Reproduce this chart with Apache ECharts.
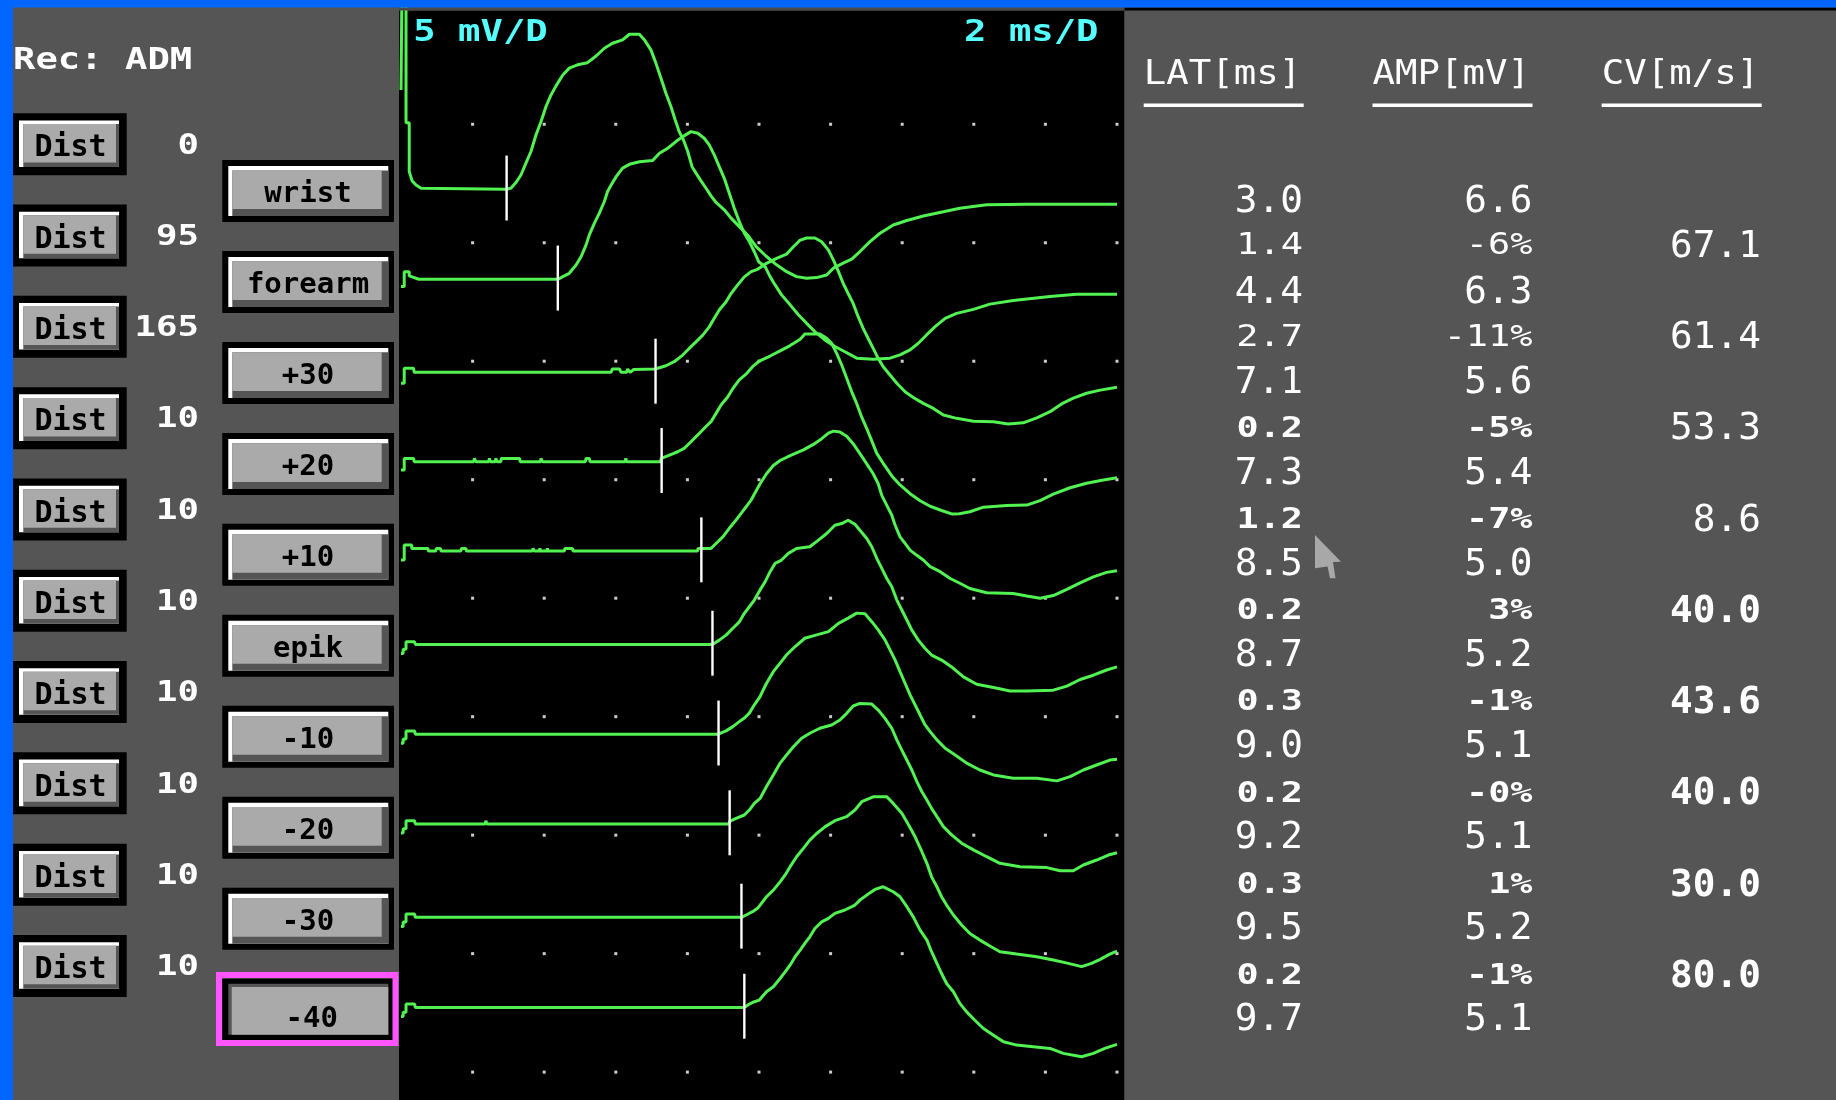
<!DOCTYPE html>
<html><head><meta charset="utf-8">
<script src="https://cdn.jsdelivr.net/npm/echarts@6/dist/echarts.min.js"></script>
<style>html,body{margin:0;padding:0;background:#555555;overflow:hidden}#chart{width:1836px;height:1100px}</style>
</head><body><div id="chart"></div>
<script>
// ---------------- data ----------------
const siteNames = ['wrist','forearm','+30','+20','+10','epik','-10','-20','-30','-40'];
const distValues = ['0','95','165','10','10','10','10','10','10','10'];
const recSite = 'Rec: ADM';
const sensLabel = '5 mV/D';
const sweepLabel = '2 ms/D';
const tableHeaders = ['LAT[ms]','AMP[mV]','CV[m/s]'];
const latValues = [3.0, 4.4, 7.1, 7.3, 8.5, 8.7, 9.0, 9.2, 9.5, 9.7];
const ampValues = [6.6, 6.3, 5.6, 5.4, 5.0, 5.2, 5.1, 5.1, 5.2, 5.1];
const latDiffs = [1.4, 2.7, 0.2, 1.2, 0.2, 0.3, 0.2, 0.3, 0.2];
const ampDiffs = ['-6%','-11%','-5%','-7%','3%','-1%','-0%','1%','-1%'];
const cvValues = [67.1, 61.4, 53.3, 8.6, 40.0, 43.6, 40.0, 30.0, 80.0];
// trace display offsets (mV on the screen scale) and onset cursors (ms)
const baselines = [37.26, 33.46, 29.53, 25.76, 21.99, 18.05, 14.26, 10.47, 6.53, 2.73];
const onsetMarks = [2.95, 4.38, 7.11, 7.28, 8.39, 8.70, 8.87, 9.18, 9.51, 9.59];
// grid division ticks
const timeTicks = [2,4,6,8,10,12,14,16,18,20];
const levelTicks = [0,5,10,15,20,25,30,35,40];
// traces: [ms, mV relative to own baseline]
const traceWrist = [[0,4.19],[0.03,9],[0.14,9],[0.14,2.8],[0.23,2.8],[0.23,0.74],[0.31,0.35],[0.42,0.18],[0.56,0.04],[0.6,0],[2.93,0],[3.07,0.04],[3.21,0.28],[3.35,0.60],[3.49,1.10],[3.63,1.59],[3.77,2.29],[3.91,2.85],[4.05,3.49],[4.19,3.98],[4.33,4.36],[4.52,4.82],[4.70,5.11],[4.93,5.25],[5.21,5.34],[5.45,5.62],[5.68,5.95],[5.91,6.16],[6.19,6.30],[6.38,6.54],[6.66,6.54],[6.80,6.30],[6.98,5.88],[7.12,5.32],[7.26,4.69],[7.40,4.05],[7.54,3.49],[7.66,2.92],[7.77,2.43],[7.89,2.08],[8.01,1.59],[8.13,0.95],[8.24,0.68],[8.38,0.35],[8.52,0.04],[8.66,-0.28],[8.80,-0.56],[9.03,-0.87],[9.22,-1.22],[9.45,-1.58],[9.68,-1.93],[9.92,-2.42],[10.21,-2.84],[10.49,-3.19],[10.77,-3.48],[11.05,-3.69],[11.33,-3.76],[11.61,-3.73],[11.89,-3.62],[12.08,-3.33],[12.35,-3.12],[12.59,-2.95],[12.82,-2.63],[13.10,-2.21],[13.38,-1.86],[13.75,-1.51],[14.13,-1.32],[14.59,-1.13],[15.15,-0.95],[15.61,-0.80],[16.36,-0.66],[17.48,-0.63],[20,-0.63]];
const traceForearm = [[0,-0.31],[0.09,-0.31],[0.09,0.32],[0.23,0.32],[0.23,0.14],[0.5,0],[4.39,0],[4.52,0.11],[4.70,0.25],[4.89,0.60],[5.03,0.95],[5.17,1.45],[5.26,1.87],[5.40,2.36],[5.54,2.79],[5.68,3.28],[5.77,3.70],[5.87,3.98],[6.01,4.33],[6.19,4.69],[6.38,4.85],[6.66,4.96],[7.03,5.01],[7.22,5.32],[7.45,5.53],[7.68,5.81],[7.87,6.02],[8.10,6.23],[8.29,6.16],[8.47,5.95],[8.61,5.67],[8.75,5.25],[8.89,4.75],[9.03,4.26],[9.17,3.63],[9.31,3.00],[9.45,2.43],[9.59,1.94],[9.73,1.59],[9.87,1.16],[9.99,0.74],[10.17,0.53],[10.31,0.11],[10.45,-0.24],[10.63,-0.66],[10.87,-1.08],[11.10,-1.50],[11.33,-1.86],[11.56,-2.21],[11.84,-2.56],[12.12,-2.84],[12.40,-3.06],[12.73,-3.33],[13.19,-3.38],[13.66,-3.33],[13.94,-3.19],[14.22,-2.98],[14.45,-2.70],[14.68,-2.35],[14.92,-2.00],[15.20,-1.65],[15.52,-1.44],[15.99,-1.27],[16.45,-1.05],[17.10,-0.90],[18.13,-0.73],[18.87,-0.63],[20,-0.63]];
const tracePlus30 = [[0,-0.46],[0.09,-0.46],[0.09,0.17],[0.35,0.17],[0.37,0],[5.87,0],[5.9,0.14],[6.1,0.14],[6.15,0],[6.3,0],[6.33,0.14],[6.4,0],[6.5,0.12],[7.10,0.14],[7.40,0.28],[7.63,0.45],[7.87,0.73],[8.05,1.01],[8.24,1.29],[8.43,1.57],[8.61,1.92],[8.75,2.28],[8.89,2.63],[9.08,2.98],[9.22,3.33],[9.40,3.68],[9.59,4.03],[9.78,4.25],[9.96,4.35],[10.21,4.60],[10.49,4.81],[10.77,4.99],[10.96,5.30],[11.15,5.58],[11.33,5.67],[11.56,5.67],[11.75,5.51],[11.94,5.16],[12.08,4.74],[12.22,4.25],[12.35,3.76],[12.49,3.33],[12.63,2.91],[12.77,2.35],[12.91,1.86],[13.05,1.43],[13.19,1.01],[13.33,0.59],[13.47,0.24],[13.66,-0.11],[13.85,-0.46],[14.08,-0.82],[14.31,-1.06],[14.59,-1.31],[14.87,-1.52],[15.15,-1.80],[15.52,-1.94],[15.99,-2.06],[16.55,-2.08],[16.96,-2.18],[17.38,-2.13],[17.76,-1.92],[18.13,-1.66],[18.45,-1.33],[18.78,-1.09],[19.15,-0.88],[19.53,-0.75],[20,-0.63]];
const tracePlus20 = [[0,-0.35],[0.09,-0.35],[0.09,0.14],[0.35,0.14],[0.37,0],[2.03,0],[2.05,0.14],[2.09,0],[2.45,0],[2.47,0.14],[2.5,0],[2.63,0],[2.65,0.14],[2.68,0],[2.79,0],[2.8,0.14],[3.31,0.14],[3.33,0],[3.9,0],[3.91,0.14],[3.95,0],[5.15,0],[5.17,0.14],[5.26,0.14],[5.28,0],[6.26,0],[6.28,0.14],[6.3,0],[7.25,0],[7.27,0.14],[7.50,0.28],[7.73,0.42],[7.91,0.56],[8.10,0.84],[8.29,1.13],[8.47,1.41],[8.66,1.69],[8.80,2.04],[8.94,2.39],[9.13,2.74],[9.27,3.09],[9.45,3.45],[9.66,3.73],[9.82,4.01],[10.02,4.26],[10.31,4.46],[10.59,4.68],[10.87,4.90],[11.15,5.17],[11.28,5.39],[11.70,5.39],[11.89,5.21],[12.03,5.00],[12.17,4.57],[12.31,4.08],[12.45,3.52],[12.59,2.95],[12.73,2.45],[12.87,1.88],[13.01,1.40],[13.15,0.88],[13.29,0.35],[13.47,-0.07],[13.71,-0.60],[13.94,-0.98],[14.22,-1.35],[14.50,-1.65],[14.78,-1.88],[15.10,-2.06],[15.40,-2.21],[15.60,-2.20],[15.89,-2.11],[16.27,-1.92],[16.92,-1.85],[17.48,-1.83],[17.85,-1.64],[18.22,-1.37],[18.69,-1.10],[19.15,-0.91],[19.62,-0.77],[20,-0.68]];
const tracePlus10 = [[0,-0.38],[0.09,-0.38],[0.09,0.25],[0.3,0.25],[0.3,0.11],[0.75,0.11],[0.77,0],[0.97,0],[0.99,0.11],[1.1,0.11],[1.12,0],[1.67,0],[1.69,0.11],[1.81,0.11],[1.83,0],[3.67,0],[3.69,0.11],[3.72,0],[3.86,0],[3.88,0.11],[3.9,0],[4.07,0],[4.09,0.11],[4.11,0],[4.56,0],[4.58,0.11],[4.79,0.11],[4.81,0],[8.28,0],[8.3,0.11],[8.66,0.11],[8.80,0.32],[8.99,0.60],[9.17,0.96],[9.36,1.31],[9.50,1.59],[9.64,1.87],[9.78,2.15],[10.03,2.84],[10.21,3.26],[10.40,3.61],[10.59,3.82],[10.87,4.03],[11.24,4.27],[11.52,4.50],[11.75,4.74],[11.94,4.98],[12.08,5.06],[12.26,5.02],[12.45,4.84],[12.63,4.53],[12.82,4.11],[13.01,3.68],[13.19,3.26],[13.33,2.84],[13.43,2.35],[13.57,1.93],[13.71,1.51],[13.80,1.10],[13.94,0.60],[14.08,0.32],[14.22,0.04],[14.40,-0.17],[14.59,-0.38],[14.78,-0.66],[15.06,-0.87],[15.34,-1.16],[15.61,-1.36],[15.89,-1.58],[16.36,-1.76],[17.10,-1.79],[17.48,-1.90],[17.85,-1.99],[18.22,-1.88],[18.60,-1.62],[18.97,-1.34],[19.34,-1.09],[19.71,-0.90],[20,-0.83]];
const traceEpik = [[0,-0.38],[0.06,-0.38],[0.06,-0.2],[0.14,-0.2],[0.14,0.11],[0.38,0.11],[0.4,0],[8.70,0],[8.89,0.18],[9.08,0.39],[9.27,0.68],[9.45,0.95],[9.59,1.31],[9.73,1.59],[9.87,1.87],[10.03,2.30],[10.17,2.64],[10.31,3.07],[10.45,3.42],[10.63,3.56],[10.82,3.84],[11.05,4.05],[11.42,4.12],[11.66,4.40],[11.89,4.68],[12.12,5.03],[12.31,5.10],[12.49,5.24],[12.68,5.07],[12.82,4.82],[13.01,4.47],[13.15,4.12],[13.29,3.63],[13.43,3.21],[13.57,2.78],[13.71,2.43],[13.85,1.87],[13.99,1.45],[14.13,1.03],[14.27,0.60],[14.45,0.18],[14.64,-0.17],[14.82,-0.45],[15.10,-0.66],[15.38,-0.95],[15.71,-1.37],[16.08,-1.68],[16.55,-1.82],[17.01,-1.97],[17.48,-1.97],[18.22,-1.93],[18.60,-1.76],[18.97,-1.48],[19.34,-1.30],[19.71,-1.08],[20,-0.95]];
const traceMinus10 = [[0,-0.38],[0.06,-0.38],[0.06,-0.2],[0.14,-0.2],[0.14,0.14],[0.38,0.14],[0.4,0],[8.86,0],[9.08,0.14],[9.27,0.32],[9.45,0.53],[9.59,0.68],[9.73,0.89],[9.87,1.24],[10.03,1.59],[10.21,2.15],[10.40,2.64],[10.59,3.00],[10.77,3.35],[11.01,3.70],[11.28,4.05],[11.61,4.19],[11.94,4.33],[12.22,4.68],[12.49,4.90],[12.73,5.11],[12.96,5.08],[13.15,4.75],[13.33,4.40],[13.52,3.98],[13.66,3.56],[13.80,3.14],[13.94,2.64],[14.08,2.15],[14.22,1.66],[14.36,1.24],[14.50,0.81],[14.64,0.39],[14.78,0.11],[14.97,-0.24],[15.20,-0.59],[15.47,-0.87],[15.80,-1.22],[16.17,-1.51],[16.55,-1.72],[17.10,-1.86],[17.76,-1.86],[18.32,-1.97],[18.69,-1.79],[19.06,-1.51],[19.43,-1.30],[19.80,-1.09],[20,-1.06]];
const traceMinus20 = [[0,-0.38],[0.06,-0.38],[0.06,-0.2],[0.14,-0.2],[0.14,0.14],[0.38,0.14],[0.4,0],[2.35,0],[2.37,0.14],[2.4,0],[9.16,0],[9.18,0.11],[9.36,0.24],[9.59,0.38],[9.73,0.59],[9.87,0.87],[10.03,1.08],[10.21,1.58],[10.40,2.07],[10.59,2.57],[10.77,2.91],[10.96,3.26],[11.19,3.62],[11.42,3.83],[11.70,4.04],[12.03,4.18],[12.26,4.39],[12.45,4.67],[12.63,4.98],[12.82,5.09],[13.15,5.06],[13.33,4.81],[13.52,4.46],[13.71,4.04],[13.85,3.55],[13.99,3.12],[14.13,2.70],[14.27,2.28],[14.41,1.79],[14.55,1.36],[14.69,1.01],[14.82,0.66],[14.97,0.31],[15.15,-0.11],[15.38,-0.46],[15.66,-0.81],[15.99,-1.09],[16.36,-1.38],[16.73,-1.66],[17.29,-1.80],[18.04,-1.84],[18.41,-1.97],[18.78,-1.97],[19.06,-1.73],[19.43,-1.52],[19.76,-1.31],[20,-1.21]];
const traceMinus30 = [[0,-0.38],[0.06,-0.38],[0.06,-0.2],[0.14,-0.2],[0.14,0.14],[0.38,0.14],[0.4,0],[9.51,0],[9.64,0.10],[9.82,0.24],[9.96,0.38],[10.03,0.52],[10.21,0.87],[10.40,1.15],[10.59,1.50],[10.73,1.79],[10.87,2.14],[11.05,2.56],[11.24,2.91],[11.42,3.26],[11.61,3.54],[11.84,3.82],[12.12,4.08],[12.45,4.25],[12.68,4.53],[12.87,4.88],[13.19,5.09],[13.57,5.09],[13.75,4.81],[13.99,4.39],[14.18,3.90],[14.36,3.40],[14.55,2.77],[14.69,2.28],[14.82,1.71],[14.97,1.29],[15.10,0.87],[15.24,0.52],[15.43,0.10],[15.66,-0.32],[15.89,-0.68],[16.17,-0.96],[16.45,-1.21],[16.73,-1.45],[17.20,-1.55],[17.76,-1.66],[18.22,-1.80],[18.64,-1.94],[19.01,-2.08],[19.29,-1.94],[19.53,-1.77],[19.80,-1.55],[20,-1.42]];
const traceMinus40 = [[0,-0.38],[0.06,-0.38],[0.06,-0.2],[0.14,-0.2],[0.14,0.14],[0.38,0.14],[0.4,0],[9.59,0],[9.73,0.14],[9.87,0.24],[10.01,0.31],[10.21,0.66],[10.40,0.87],[10.59,1.22],[10.73,1.50],[10.87,1.79],[11.01,2.14],[11.15,2.42],[11.28,2.70],[11.42,2.98],[11.56,3.33],[11.75,3.61],[11.94,3.76],[12.12,3.97],[12.40,4.11],[12.68,4.32],[12.82,4.53],[13.01,4.74],[13.24,4.98],[13.47,5.09],[13.75,4.88],[13.94,4.67],[14.13,4.25],[14.31,3.82],[14.50,3.26],[14.69,2.84],[14.82,2.35],[14.97,1.86],[15.10,1.43],[15.24,1.01],[15.43,0.66],[15.61,0.17],[15.80,-0.19],[16.03,-0.54],[16.27,-0.89],[16.55,-1.17],[16.83,-1.45],[17.20,-1.59],[17.66,-1.66],[18.13,-1.73],[18.50,-1.94],[19.01,-2.08],[19.34,-1.94],[19.66,-1.73],[20,-1.56]];
const traces = [traceWrist, traceForearm, tracePlus30, tracePlus20, tracePlus10, traceEpik, traceMinus10, traceMinus20, traceMinus30, traceMinus40];

// ---------------- styling ----------------
const GREEN = '#52F252', GREY = '#555555', LIGHT = '#AAAAAA', BLUE = '#0066FF', CYAN = '#55FFFF', MAGENTA = '#FF55FF';
const MONO = '"DejaVu Sans Mono", "Liberation Mono", monospace';

function rect(x, y, w, h, fill, z) {
  return {type: 'rect', silent: true, z: z, shape: {x: x, y: y, width: w, height: h}, style: {fill: fill}};
}
// y is the wanted centre of the capitals / digits
function txt(x, y, s, weight, size, fill, align, sx, z) {
  return {type: 'text', silent: true, x: x, y: y + size * 0.08, scaleX: sx, scaleY: 1, z: z || 20,
    style: {text: s, font: weight + ' ' + size + 'px ' + MONO, fill: fill, align: align, textAlign: align,
      verticalAlign: 'middle', textVerticalAlign: 'middle'}};
}

const els = [];
// panels
els.push(rect(13, 0, 386, 1100, GREY, 0));
els.push(rect(399, 10.5, 725.5, 1089.5, '#000000', 0));
els.push(rect(1124.5, 0, 711.5, 1100, GREY, 0));
// frame bars (drawn over traces)
els.push(rect(399, 7.5, 725.5, 3, '#4a4a4a', 100));
els.push(rect(1124.5, 7.5, 711.5, 3, '#000000', 100));
els.push(rect(0, 0, 1836, 7.5, BLUE, 100));
els.push(rect(0, 0, 13, 1100, BLUE, 100));

// Rec label
els.push(txt(13, 59.3, recSite, 'bold', 30, '#FFFFFF', 'left', 1.24, 20));

// Dist buttons
distValues.forEach(function (d, i) {
  const top = 113.2 + i * 91.31;
  els.push(rect(13, top, 113.7, 62, '#000000', 10));
  els.push(rect(19, top + 7.2, 100, 46.6, '#FFFFFF', 11));
  els.push(rect(23.3, top + 10.8, 95.7, 43, GREY, 12));
  els.push(rect(23.3, top + 10.8, 92.7, 38.5, LIGHT, 13));
  els.push(txt(70.5, top + 33, 'Dist', 'bold', 30, '#000000', 'center', 1.0, 20));
  els.push(txt(199, top + 30.5, d, 'bold', 29, '#FFFFFF', 'right', 1.23, 20));
});

// Site buttons
siteNames.forEach(function (s, i) {
  const top = 160 + i * 90.96;
  const last = i === siteNames.length - 1;
  els.push(rect(222.3, top, 171.7, 62, '#000000', 10));
  if (!last) {
    els.push(rect(228.3, top + 6, 160, 50, '#FFFFFF', 11));
    els.push(rect(232.3, top + 10.4, 156, 45.6, GREY, 12));
    els.push(rect(232.3, top + 10.4, 149.4, 38.6, LIGHT, 13));
    els.push(txt(308, top + 32.5, s, 'bold', 29, '#000000', 'center', 1.0, 20));
  } else {
    els.push(rect(228.3, top + 5, 160, 51, GREY, 11));
    els.push(rect(231.7, top + 8.4, 156.6, 47.6, LIGHT, 12));
    els.push(txt(311.7, top + 38.2, s, 'bold', 29, '#000000', 'center', 1.0, 20));
    els.push({type: 'rect', silent: true, z: 14, shape: {x: 219, y: top - 3.6, width: 176.5, height: 68},
      style: {fill: null, stroke: MAGENTA, lineWidth: 6}});
  }
});

// plot scale labels
els.push(txt(413.3, 30.8, sensLabel, 'bold', 30, CYAN, 'left', 1.24, 101));
els.push(txt(1098.5, 30.8, sweepLabel, 'bold', 30, CYAN, 'right', 1.24, 101));

// results table
const headX = [1143.7, 1372.5, 1601.7];
tableHeaders.forEach(function (h, k) {
  els.push(txt(headX[k], 72.3, h, 'normal', 34, '#FFFFFF', 'left', 1.1, 20));
  els.push(rect(headX[k], 103.6, 160, 3.4, '#FFFFFF', 20));
});
const colR = [1303, 1532.5, 1761];
latValues.forEach(function (v, i) {
  const y = 199.1 + i * 90.9;
  els.push(txt(colR[0], y, v.toFixed(1), 'normal', 37, '#FFFFFF', 'right', 1.02, 20));
  els.push(txt(colR[1], y, ampValues[i].toFixed(1), 'normal', 37, '#FFFFFF', 'right', 1.02, 20));
});
latDiffs.forEach(function (v, i) {
  const y = 244.1 + i * 91.3;
  const w = i < 2 ? 'normal' : 'bold';
  const size = i < 2 ? 30 : 29;
  const sx = i < 2 ? 1.23 : 1.27;
  els.push(txt(colR[0], y, v.toFixed(1), w, size, '#FFFFFF', 'right', sx, 20));
  els.push(txt(colR[1], y, ampDiffs[i], w, size, '#FFFFFF', 'right', sx, 20));
  els.push(txt(colR[2], y, cvValues[i].toFixed(1), i < 4 ? 'normal' : 'bold', 37, '#FFFFFF', 'right', 1.02, 20));
});
// mouse pointer
els.push({type: 'polygon', silent: true, z: 30,
  shape: {points: [[1315, 535], [1341, 561.7], [1333, 562], [1335.5, 578.3], [1330, 578.3], [1327.5, 566.5], [1315, 568.3]]},
  style: {fill: '#A8A8A8'}});

// ---------------- series ----------------
const dotData = [];
timeTicks.forEach(function (t) { levelTicks.forEach(function (l) { dotData.push([t, l]); }); });

const series = [{
  type: 'scatter', data: dotData, symbol: 'rect', symbolSize: 3, clip: false,
  itemStyle: {color: '#FFFFFF'}, silent: true, animation: false, z: 1
}];
traces.forEach(function (tr, i) {
  series.push({
    type: 'line', name: siteNames[i], silent: true, animation: false, z: 3,
    symbol: 'none', showSymbol: false,
    lineStyle: {color: GREEN, width: 3},
    data: tr.map(function (p) { return [p[0], baselines[i] + p[1]]; })
  });
});
series.push({
  type: 'custom', silent: true, animation: false, z: 4, clip: false,
  data: onsetMarks.map(function (t, i) { return [t, baselines[i] + 0.05]; }),
  renderItem: function (params, api) {
    const x = api.value(0), y = api.value(1);
    const a = api.coord([x, y + 1.37]), b = api.coord([x, y - 1.37]);
    return {type: 'line', shape: {x1: a[0], y1: a[1], x2: b[0], y2: b[1]}, style: {stroke: '#FFFFFF', lineWidth: 2.4}};
  }
});

const chart = echarts.init(document.getElementById('chart'), null, {renderer: 'canvas', width: 1836, height: 1100});
chart.setOption({
  animation: false,
  backgroundColor: GREY,
  grid: {left: 401, top: 5.8, width: 716, height: 1090, containLabel: false, show: false},
  xAxis: {type: 'value', min: 0, max: 20, show: false},
  yAxis: {type: 'value', min: -1, max: 45, show: false},
  graphic: {elements: els},
  series: series
});
</script></body></html>
